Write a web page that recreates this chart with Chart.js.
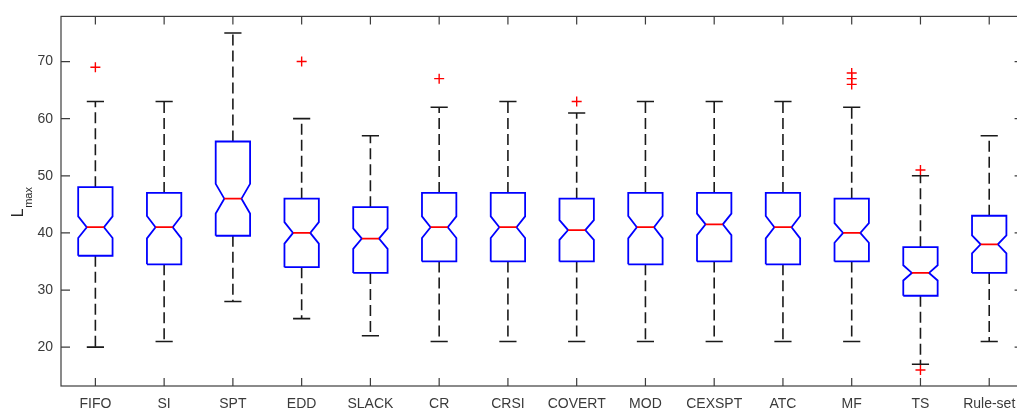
<!DOCTYPE html>
<html>
<head>
<meta charset="utf-8">
<script src="https://cdn.jsdelivr.net/npm/chart.js@4.4.1/dist/chart.umd.min.js"></script>
<style>
    html, body { margin: 0; padding: 0; background: #ffffff; overflow: hidden; }
    #wrap { width: 1030px; height: 412px; }
</style>
</head>
<body>
<div id="wrap"><canvas id="boxChart" width="1030" height="412"></canvas></div>
<script>
// Per-rule box statistics (Lmax)
const CATEGORIES = ['FIFO', 'SI', 'SPT', 'EDD', 'SLACK', 'CR', 'CRSI', 'COVERT', 'MOD', 'CEXSPT', 'ATC', 'MF', 'TS', 'Rule-set'];
const LOWER_WHISKER = [20, 21, 28, 25, 22, 21, 21, 21, 21, 21, 21, 21, 17, 21];
const Q1 = [36, 34.5, 39.5, 34, 33, 35, 35, 35, 34.5, 35, 34.5, 35, 29, 33];
const MEDIAN = [41, 41, 46, 40, 39, 41, 41, 40.5, 41, 41.5, 41, 40, 33, 38];
const Q3 = [48, 47, 56, 46, 44.5, 47, 47, 46, 47, 47, 47, 46, 37.5, 43];
const UPPER_WHISKER = [63, 63, 75, 60, 57, 62, 63, 61, 63, 63, 63, 62, 50, 57];
const OUTLIERS = [[69], [], [], [70], [], [67], [], [63], [], [], [], [66, 67, 68], [51, 16], []];
const Y_TICKS = [20, 30, 40, 50, 60, 70];
const SAMPLE_SIZE = 100; // notch half-height = 1.57 * IQR / sqrt(n)

const BOX_HALF = 0.25;
const AXIS_COLOR = '#3c3c3c';
const FONT = "'Liberation Sans', Arial, sans-serif";

function notchHalf(i) {
    return 1.57 * (Q3[i] - Q1[i]) / Math.sqrt(SAMPLE_SIZE);
}

// Build segment lists, null-separated so one dataset holds every box
const boxPts = [], medianPts = [], whiskerPts = [], capPts = [], outlierPts = [];
CATEGORIES.forEach((c, i) => {
    const x = i + 1, w = BOX_HALF, n = notchHalf(i), m = MEDIAN[i];
    boxPts.push(
        {x: x - w, y: Q1[i]}, {x: x + w, y: Q1[i]},
        {x: x + w, y: m - n}, {x: x + w / 2, y: m}, {x: x + w, y: m + n},
        {x: x + w, y: Q3[i]}, {x: x - w, y: Q3[i]},
        {x: x - w, y: m + n}, {x: x - w / 2, y: m}, {x: x - w, y: m - n},
        {x: x - w, y: Q1[i]}, {x: x, y: null}
    );
    medianPts.push({x: x - w / 2, y: m}, {x: x + w / 2, y: m}, {x: x, y: null});
    whiskerPts.push({x: x, y: Q3[i]}, {x: x, y: UPPER_WHISKER[i]}, {x: x, y: null});
    whiskerPts.push({x: x, y: Q1[i]}, {x: x, y: LOWER_WHISKER[i]}, {x: x, y: null});
    capPts.push({x: x - w / 2, y: UPPER_WHISKER[i]}, {x: x + w / 2, y: UPPER_WHISKER[i]}, {x: x, y: null});
    capPts.push({x: x - w / 2, y: LOWER_WHISKER[i]}, {x: x + w / 2, y: LOWER_WHISKER[i]}, {x: x, y: null});
    OUTLIERS[i].forEach(v => outlierPts.push({x: x, y: v}));
});

const lineDefaults = {
    type: 'line',
    pointRadius: 0,
    pointHitRadius: 0,
    tension: 0,
    spanGaps: false,
    fill: false
};

// Inward MATLAB-style ticks, full frame and the subscripted y label
const frameAndTicks = {
    id: 'frameAndTicks',
    afterDraw(chart) {
        const ctx = chart.ctx, a = chart.chartArea;
        const xs = chart.scales.x, ys = chart.scales.y;
        ctx.save();
        ctx.strokeStyle = AXIS_COLOR;
        ctx.lineWidth = 1.2;
        ctx.strokeRect(a.left, a.top, a.right - a.left, a.bottom - a.top);
        ctx.beginPath();
        xs.ticks.forEach(t => {
            const px = xs.getPixelForValue(t.value);
            ctx.moveTo(px, a.bottom); ctx.lineTo(px, a.bottom - 8);
            ctx.moveTo(px, a.top); ctx.lineTo(px, a.top + 8);
        });
        ys.ticks.forEach(t => {
            const py = ys.getPixelForValue(t.value);
            ctx.moveTo(a.left, py); ctx.lineTo(a.left + 9, py);
            ctx.moveTo(a.right, py); ctx.lineTo(a.right - 9, py);
        });
        ctx.stroke();

        // "L" with "max" subscript, rotated
        const cy = (a.top + a.bottom) / 2;
        ctx.fillStyle = '#262626';
        ctx.translate(23, cy + 16);
        ctx.rotate(-Math.PI / 2);
        ctx.textBaseline = 'alphabetic';
        ctx.textAlign = 'left';
        ctx.font = '16px ' + FONT;
        ctx.fillText('L', 0, 0);
        const lw = ctx.measureText('L').width;
        ctx.font = '11px ' + FONT;
        ctx.fillText('max', lw + 0.5, 9);
        ctx.restore();
    }
};

Chart.defaults.font.family = FONT;
Chart.defaults.color = '#3a3a3a';

new Chart(document.getElementById('boxChart'), {
    type: 'line',
    data: {
        datasets: [
            Object.assign({}, lineDefaults, {
                label: 'outliers',
                type: 'scatter',
                data: outlierPts,
                showLine: false,
                pointStyle: 'cross',
                pointRadius: 5,
                pointBorderColor: '#ff0000',
                pointBorderWidth: 1.4,
                order: 0
            }),
            Object.assign({}, lineDefaults, {
                label: 'median',
                data: medianPts,
                borderColor: '#ff0000',
                borderWidth: 1.7,
                order: 1
            }),
            Object.assign({}, lineDefaults, {
                label: 'box',
                data: boxPts,
                borderColor: '#0000ff',
                borderWidth: 1.8,
                borderJoinStyle: 'miter',
                order: 2
            }),
            Object.assign({}, lineDefaults, {
                label: 'caps',
                data: capPts,
                borderColor: '#1a1a1a',
                borderWidth: 1.6,
                order: 3
            }),
            Object.assign({}, lineDefaults, {
                label: 'whiskers',
                data: whiskerPts,
                borderColor: '#1a1a1a',
                borderWidth: 1.6,
                borderDash: [11, 5],
                order: 4
            })
        ]
    },
    options: {
        responsive: false,
        animation: false,
        layout: { padding: { top: 8, right: 4, left: 0, bottom: 0 } },
        plugins: {
            legend: { display: false },
            tooltip: { enabled: false }
        },
        scales: {
            x: {
                type: 'linear',
                min: 0.5,
                max: CATEGORIES.length + 0.5,
                afterBuildTicks: s => { s.ticks = CATEGORIES.map((c, i) => ({ value: i + 1 })); },
                afterFit: s => { s.height = 26; },
                grid: { display: false, drawTicks: false },
                border: { display: false },
                ticks: {
                    autoSkip: false,
                    maxRotation: 0,
                    padding: 10,
                    font: { size: 14 },
                    callback: v => CATEGORIES[Math.round(v) - 1]
                }
            },
            y: {
                type: 'linear',
                min: 13.2,
                max: 77.9,
                afterBuildTicks: s => { s.ticks = Y_TICKS.map(v => ({ value: v })); },
                afterFit: s => { s.width = 61; },
                grid: { display: false, drawTicks: false },
                border: { display: false },
                ticks: {
                    padding: 8,
                    font: { size: 14 }
                }
            }
        }
    },
    plugins: [frameAndTicks]
});
</script>
</body>
</html>
